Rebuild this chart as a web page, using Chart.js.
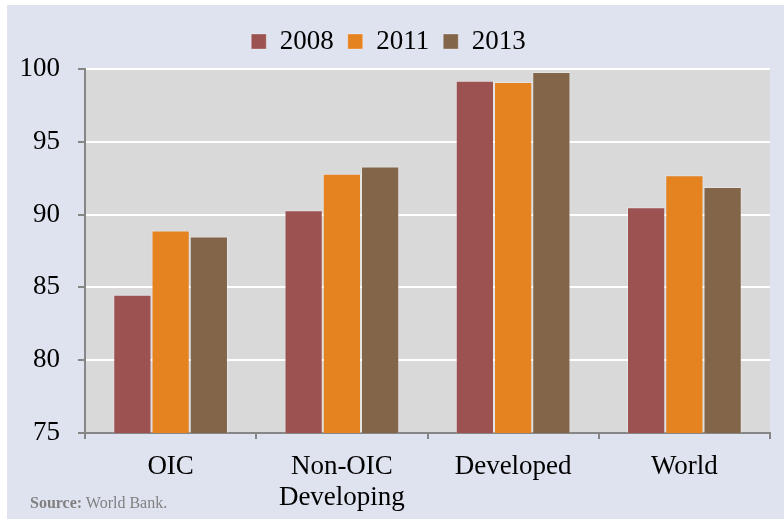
<!DOCTYPE html>
<html lang="en">
<head>
  <meta charset="UTF-8">
  <title>Access indicator by country group</title>
  <script src="https://cdn.jsdelivr.net/npm/chart.js"></script>
  <style>
    * {
      margin: 0;
      padding: 0;
      box-sizing: border-box;
    }

    body {
      width: 784px;
      height: 519px;
      background-color: #ffffff;
      overflow: hidden;
      position: relative;
    }

    .frame {
      position: absolute;
      left: 7px;
      top: 5px;
      width: 777px;
      height: 514px;
      background-color: #dfe3ef;
    }

    #chartCanvas {
      position: absolute;
      left: 0;
      top: 0;
    }

    .source {
      position: absolute;
      left: 23px;
      top: 489px;
      font-family: "Liberation Serif", serif;
      font-size: 16px;
      color: #808080;
    }
  </style>
</head>
<body>
<div class="frame">
  <canvas id="chartCanvas" width="777" height="514"></canvas>
  <div class="source"><b>Source:</b> World Bank.</div>
</div>

<script>
  // data
  const groups = [['OIC'], ['Non-OIC', 'Developing'], ['Developed'], ['World']];
  const years = ['2008', '2011', '2013'];
  const values2008 = [84.5, 90.3, 99.2, 90.5];
  const values2011 = [88.9, 92.8, 99.1, 92.7];
  const values2013 = [88.5, 93.3, 99.8, 91.9];
  const yTicks = [75, 80, 85, 90, 95, 100];

  const colors = ['#9d5252', '#e58320', '#836649'];

  Chart.defaults.font.family = "'Liberation Serif', serif";
  Chart.defaults.color = '#000000';

  // gray plot background
  const plotBg = {
    id: 'plotBg',
    beforeDraw(chart) {
      const a = chart.chartArea;
      const c = chart.ctx;
      c.save();
      c.fillStyle = '#d9d9d9';
      c.fillRect(a.left, a.top, a.right - a.left, a.bottom - a.top);
      c.restore();
    }
  };

  const ctx = document.getElementById('chartCanvas').getContext('2d');
  new Chart(ctx, {
    type: 'bar',
    data: {
      labels: groups,
      datasets: [values2008, values2011, values2013].map((vals, i) => ({
        label: years[i],
        data: vals,
        backgroundColor: colors[i],
        borderColor: 'rgba(255, 255, 255, 0.3)',
        borderWidth: 1,
        categoryPercentage: 0.67,
        barPercentage: 1
      }))
    },
    options: {
      responsive: false,
      animation: false,
      devicePixelRatio: 1,
      layout: {
        padding: {top: 9, right: 14, left: 0, bottom: 0}
      },
      plugins: {
        legend: {
          position: 'top',
          labels: {
            boxWidth: 15,
            boxHeight: 15,
            padding: 14,
            font: {size: 27}
          }
        },
        // empty title used only as a small gap between legend and plot
        title: {
          display: true,
          text: '',
          weight: 500,
          font: {size: 1, lineHeight: 1},
          padding: {top: 0, bottom: 3}
        },
        tooltip: {enabled: false}
      },
      scales: {
        x: {
          afterFit: s => { s.height = 86; },
          grid: {
            drawOnChartArea: false,
            tickLength: 6,
            tickColor: '#868686',
            lineWidth: 2
          },
          border: {color: '#868686', width: 2},
          ticks: {
            font: {size: 27, lineHeight: 1.15},
            padding: 12,
            maxRotation: 0
          }
        },
        y: {
          min: 75,
          max: 100,
          afterFit: s => { s.width = 78; },
          afterBuildTicks: s => { s.ticks = yTicks.map(v => ({value: v})); },
          grid: {
            color: '#ffffff',
            lineWidth: 2,
            tickLength: 7,
            tickColor: '#868686'
          },
          border: {color: '#868686', width: 2},
          ticks: {
            font: {size: 27},
            padding: 18
          }
        }
      }
    },
    plugins: [plotBg]
  });
</script>
</body>
</html>
